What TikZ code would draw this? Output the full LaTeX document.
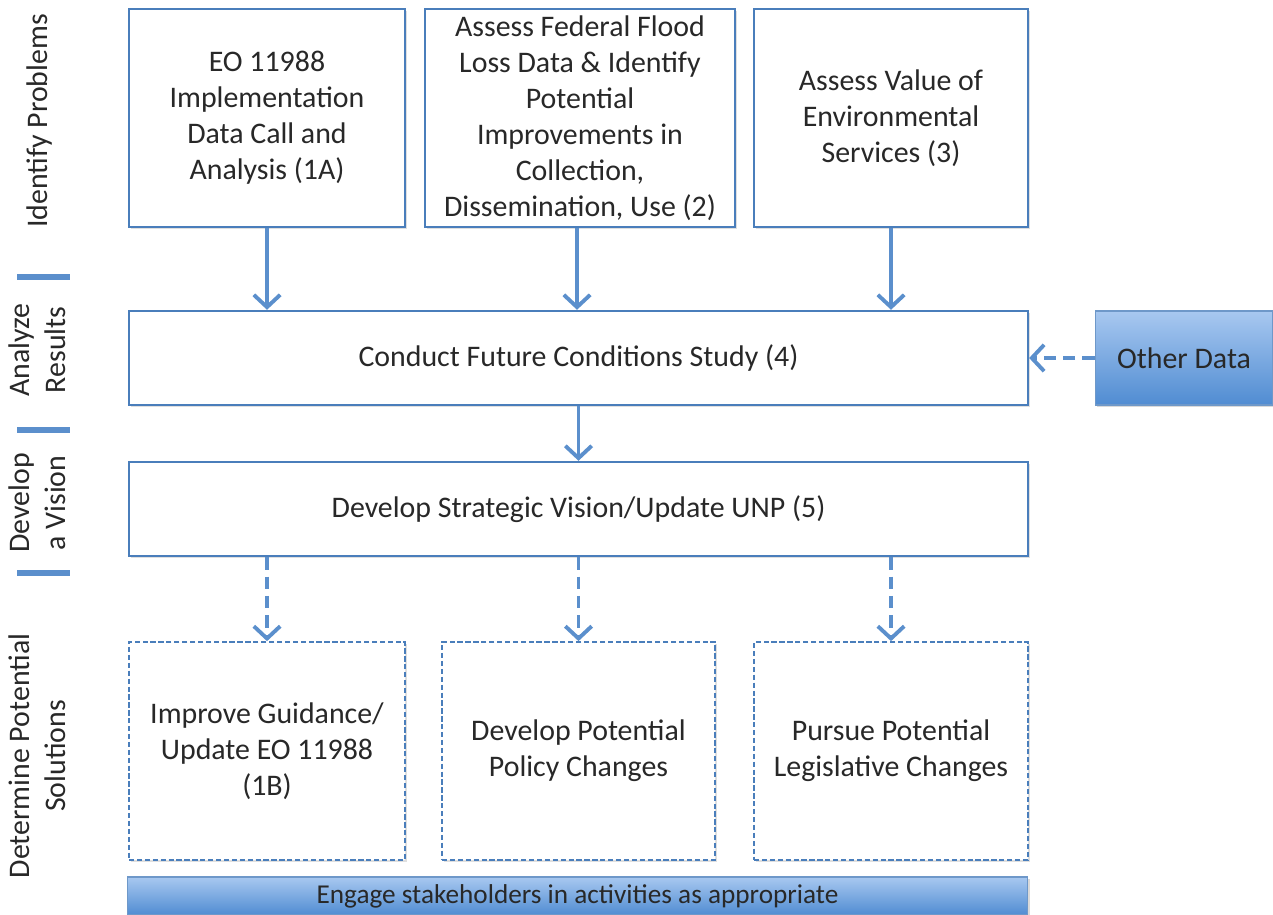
\documentclass[tikz,border=0pt]{standalone}
\usepackage{fontspec}
\setmainfont{Carlito}
\usetikzlibrary{arrows.meta,shadows}

\definecolor{boxline}{RGB}{74,126,187}
\definecolor{arrowblue}{RGB}{91,143,204}
\definecolor{filltop}{RGB}{168,200,240}
\definecolor{fillbot}{RGB}{80,140,210}
\definecolor{textgray}{RGB}{40,40,40}

\tikzset{
  stagebox/.style={draw=boxline,line width=1.4pt,fill=white,align=center,
    font=\fontsize{17}{20.5}\selectfont,text=textgray,inner sep=2pt,
    drop shadow={shadow xshift=1pt,shadow yshift=-1pt,opacity=.25}},
  ideabox/.style={draw=boxline,line width=1pt,dashed,dash pattern=on 3pt off 1.5pt,
    fill=white,align=center,font=\fontsize{17}{20.5}\selectfont,text=textgray,
    drop shadow={shadow xshift=1pt,shadow yshift=-1pt,opacity=.25}},
  databox/.style={draw=boxline!80,line width=.6pt,top color=filltop,bottom color=fillbot,
    align=center,font=\fontsize{17}{20.5}\selectfont,text=textgray,
    drop shadow={shadow xshift=1pt,shadow yshift=-1pt,opacity=.3}},
  flow/.style={draw=arrowblue,line width=2.2pt,-{Straight Barb[length=7pt,width=15pt,line width=2.2pt]}},
  dflow/.style={flow,dash pattern=on 7pt off 4pt},
  stagelabel/.style={rotate=90,align=center,font=\fontsize{17}{20.5}\selectfont,text=textgray},
  stagemark/.style={draw=arrowblue,line width=3pt}
}

\begin{document}
\begin{tikzpicture}[x=0.02cm,y=-0.02cm]

\useasboundingbox (0,0) rectangle (1273,915);

% Phase 1: Probleme erkennen
\node[stagebox,minimum width=5.52cm,minimum height=4.36cm] (dataCall) at (267,118)
  {EO 11988\\Implementation\\Data Call and\\Analysis (1A)};
\node[stagebox,minimum width=6.2cm,minimum height=4.36cm] (lossData) at (580,118)
  {Assess Federal Flood\\Loss Data \& Identify\\Potential\\Improvements in\\Collection,\\Dissemination, Use (2)};
\node[stagebox,minimum width=5.48cm,minimum height=4.36cm] (envValue) at (891,118)
  {Assess Value of\\Environmental\\Services (3)};

% Phase 2: Ergebnisse analysieren
\node[stagebox,minimum width=17.98cm,minimum height=1.88cm] (study) at (578.5,358)
  {Conduct Future Conditions Study (4)};
\node[databox,minimum width=3.56cm,minimum height=1.88cm] (otherData) at (1184,358)
  {Other Data};

% Phase 3: Vision
\node[stagebox,minimum width=17.98cm,minimum height=1.88cm] (vision) at (578.5,509)
  {Develop Strategic Vision/Update UNP (5)};

% Phase 4: Loesungen
\node[ideabox,minimum width=5.52cm,minimum height=4.36cm] (guidance) at (267,751)
  {Improve Guidance/\\Update EO 11988\\(1B)};
\node[ideabox,minimum width=5.46cm,minimum height=4.36cm] (policy) at (578.5,751)
  {Develop Potential\\Policy Changes};
\node[ideabox,minimum width=5.48cm,minimum height=4.36cm] (legis) at (891,751)
  {Pursue Potential\\Legislative Changes};

% Balken unten
\node[databox,minimum width=18.02cm,minimum height=0.76cm,inner sep=0pt,
  font=\fontsize{15.5}{18}\selectfont] (engage) at (577.5,896)
  {Engage stakeholders in activities as appropriate};

% Pfeile
\draw[flow] (dataCall.south) -- (dataCall.south |- study.north);
\draw[flow] ([xshift=-0.06cm]lossData.south) -- ([xshift=-0.06cm]lossData.south |- study.north);
\draw[flow] (envValue.south) -- (envValue.south |- study.north);
\draw[flow] (study.south) -- (vision.north);
\draw[dflow] (otherData.west) -- (study.east);

\draw[dflow] (guidance.north |- vision.south) -- (guidance.north);
\draw[dflow] (policy.north |- vision.south) -- (policy.north);
\draw[dflow] (legis.north |- vision.south) -- (legis.north);

% Beschriftung links
\node[stagelabel] (lblIdentify) at (40,121) {Identify Problems};
\node[stagelabel] (lblAnalyze) at (37,350) {Analyze\\Results};
\node[stagelabel] (lblVision) at (37,503) {Develop\\a Vision};
\node[stagelabel] (lblSolve) at (37,756) {Determine Potential\\Solutions};

% Trennstriche
\foreach \y in {277,430,573}
  \draw[stagemark] (17,\y) -- (70,\y);

\end{tikzpicture}
\end{document}
